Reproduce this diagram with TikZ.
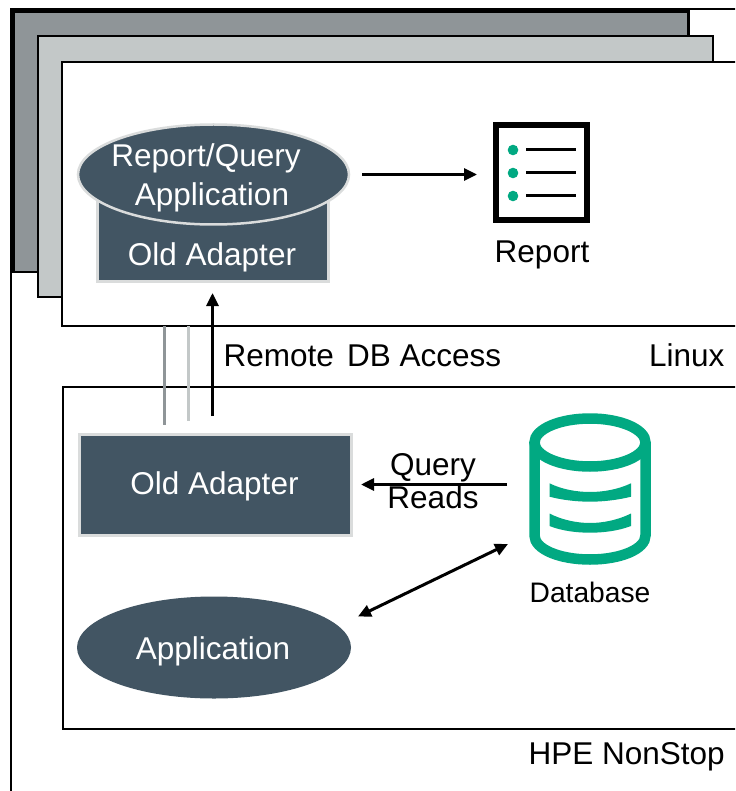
\documentclass[tikz,border=0pt]{standalone}
\usepackage{fontspec}
\setmainfont{Liberation Sans}
\usetikzlibrary{shapes.geometric,arrows.meta,calc}
\definecolor{slate}{HTML}{425563}
\definecolor{edgegray}{HTML}{DADCDC}
\definecolor{layerA}{HTML}{8F9598}
\definecolor{layerB}{HTML}{C3C8C8}
\definecolor{hpegreen}{HTML}{01A982}
\tikzset{
  frame/.style={draw=black,line width=2.8pt,rectangle,anchor=north west,inner sep=0pt,outer sep=0pt},
  darkbox/.style={rectangle,fill=slate,draw=edgegray,line width=3pt,inner sep=0pt,outer sep=0pt},
  darkell/.style={ellipse,fill=slate,draw=edgegray,line width=2.5pt,inner sep=0pt,outer sep=0pt},
  whitetxt/.style={inner sep=0pt,text=white,font=\fontsize{31.5}{39}\selectfont},
  lbl/.style={inner sep=0pt,text=black,font=\fontsize{31.5}{33}\selectfont,align=center},
  smalllbl/.style={inner sep=0pt,text=black,font=\fontsize{28.2}{30}\selectfont},
  arrowline/.style={draw=black,line width=3pt,-{Triangle[length=13pt,width=12pt]}},
  bothline/.style={draw=black,line width=3pt,{Triangle[length=13pt,width=12pt]}-{Triangle[length=13pt,width=12pt]}},
  greenband/.style={draw=hpegreen,line width=10.5pt}
}
\begin{document}
\begin{tikzpicture}[x=1pt,y=-1pt]
\useasboundingbox (0,0) rectangle (735,791);
\clip (0,0) rectangle (735,791);
% layered frames
\node[frame,line width=2.5pt,minimum width=760pt,minimum height=800pt] (outer) at (11,9) {};
\node[frame,fill=layerA,minimum width=675pt,minimum height=260.5pt] (layerone) at (13.5,11.5) {};
\node[frame,fill=layerB,minimum width=675pt,minimum height=261pt] (layertwo) at (38,36) {};
\node[frame,fill=white,minimum width=700pt,minimum height=264pt] (linux) at (62,62) {};
\node[frame,fill=white,minimum width=700pt,minimum height=342pt] (nonstop) at (63,387) {};
% upper stack
\node[darkbox,minimum width=231pt,minimum height=91pt] (adap) at (212.5,235.5) {};
\node[darkell,minimum width=271pt,minimum height=100pt] (rq) at (213.5,174.5) {};
\node[whitetxt] (rqone) at (206,158) {Report/Query};
\node[whitetxt] (rqtwo) at (212,197) {Application};
\node[whitetxt] (adaptxt) at (212,257) {Old Adapter};
% report icon
\node[rectangle,draw=black,line width=6pt,fill=white,minimum width=91pt,minimum height=95pt,inner sep=0pt,outer sep=0pt] (rep) at (541.5,172.5) {};
\foreach \yy in {150,173,196}{
  \fill[hpegreen] (513,\yy) circle (5.3pt);
  \draw[black,line width=3pt] (526,\yy) -- (576,\yy);
}
\node[lbl] (reptxt) at (542,255) {Report};
% lower boxes
\node[darkbox,minimum width=272pt,minimum height=101pt] (oldb) at (215,484.5) {};
\node[whitetxt] (oldbtxt) at (214.5,486) {Old Adapter};
\node[ellipse,fill=slate,inner sep=0pt,outer sep=0pt,minimum width=274pt,minimum height=102pt] (app) at (214,647.5) {};
\node[whitetxt] (apptxt) at (213,651) {Application};
% database icon
\node[rectangle,minimum width=122pt,minimum height=152pt,inner sep=0pt,outer sep=0pt] (db) at (590,489) {};
\draw[greenband] (590,442.5) ellipse (55.5pt and 24pt);
\draw[greenband] (534.5,442.5) -- (534.5,535.5) .. controls (534.5,549) and (559,559.5) .. (590,559.5) .. controls (621,559.5) and (645.5,549) .. (645.5,535.5) -- (645.5,442.5);
\fill[hpegreen] (549.5,483.3) .. controls (562,489.5) and (577,492) .. (590,492) .. controls (603,492) and (618,489.5) .. (631,483.3) -- (631,496.7) .. controls (618,500) and (603,501.7) .. (590,501.7) .. controls (577,501.7) and (562,500) .. (549.5,496.7) -- cycle;
\fill[hpegreen] (549.5,513.5) .. controls (562,520) and (577,523) .. (590,523) .. controls (603,523) and (618,520) .. (631,513.5) -- (631,526) .. controls (618,531) and (603,532.7) .. (590,532.7) .. controls (577,532.7) and (562,531) .. (549.5,526) -- cycle;
\node[smalllbl] (dbtxt) at (590,592) {Database};
% connectors
\draw[draw=layerA,line width=3pt] ([xshift=-48.5pt]adap.south |- linux.south) -- ([xshift=-48.5pt,yshift=9pt]adap.south |- oldb.north);
\draw[draw=layerB,line width=3pt] ([xshift=-24.5pt]adap.south |- linux.south) -- ([xshift=-24.5pt,yshift=13pt]adap.south |- oldb.north);
\draw[arrowline,shorten <=18pt,shorten >=12pt] (adap.south |- oldb.north) -- (adap.south);
\draw[arrowline,shorten <=13pt,shorten >=19pt] (rq.east) -- (rq.east -| rep.west);
\draw[arrowline,shorten <=22pt,shorten >=10pt] (db.west |- oldb.east) -- (oldb.east);
\draw[bothline] ([xshift=7pt,yshift=31pt]app.east) -- ([xshift=-21pt,yshift=-55pt]db.west);
% labels
\node[lbl,anchor=west] (remote) at (223.5,356) {Remote\hspace{0.14em} DB Access};
\node[lbl,anchor=east] (linuxtxt) at (724.5,355) {Linux};
\node[lbl] (qr) at (433,481) {Query\\Reads};
\node[lbl,anchor=east] (hpetxt) at (725,757) {HPE NonStop};
\end{tikzpicture}
\end{document}
